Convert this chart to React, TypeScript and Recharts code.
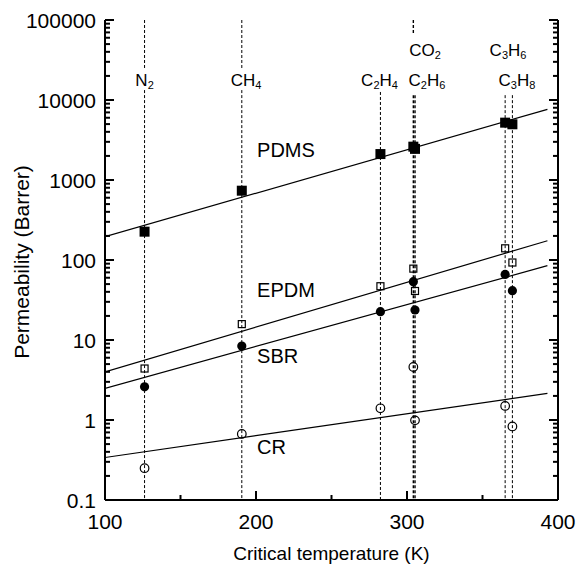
import React from 'react';
import { ComposedChart, Line, ReferenceDot, ReferenceLine, Scatter, XAxis, YAxis } from 'recharts';

// gases ordered by critical temperature (K)
const gasNames = ['N2', 'CH4', 'C2H4', 'CO2', 'C2H6', 'C3H6', 'C3H8'];
const criticalTemps = [126.2, 190.6, 282.4, 304.2, 305.3, 365.0, 369.8];

// permeability (Barrer) per gas
const pdms = [226, 735, 2110, 2610, 2450, 5210, 4970];
const epdm = [4.4, 15.8, 47, 78, 41, 140, 93];
const sbr = [2.6, 8.4, 22.6, 53.6, 23.7, 66, 41.4];
const cr = [0.25, 0.67, 1.4, 4.6, 0.99, 1.5, 0.83];

// fitted lines: endpoints in K and Barrer
const fitTemps = [100, 393];
const pdmsFit = [196, 7640];
const epdmFit = [4.0, 174];
const sbrFit = [2.49, 85];
const crFit = [0.34, 2.15];

// gas label placement (x in K, row 1 = upper)
const gasLabelTemps = [126.2, 193.4, 281.8, 312, 313.2, 366.9, 372.8];
const gasLabelRows = [2, 2, 2, 1, 2, 1, 2];
const rowValues = { 1: 42170, 2: 17783 };

// dashed guide segments per gas [top, bottom] in Barrer
const guideSegments = [
  [[100000, 25000], [13300, 0.1]],
  [[100000, 25000], [13300, 0.1]],
  [[12600, 0.1]],
  [[100000, 65000], [11500, 0.1]],
  [[11500, 0.1]],
  [[11500, 0.1]],
  [[11500, 0.1]]
];

// polymer names next to their lines
const polymerNames = ['PDMS', 'EPDM', 'SBR', 'CR'];
const polymerLabelTemps = [200.7, 200.7, 200.7, 200.7];
const polymerLabelValues = [2371, 42.2, 6.31, 0.46];

const xTicks = [100, 150, 200, 250, 300, 350, 400];
const xLabels = [100, 200, 300, 400];
const yDecades = [0.1, 1, 10, 100, 1000, 10000, 100000];
const yTicks: number[] = [];
yDecades.forEach((d, i) => {
  yTicks.push(d);
  if (i < yDecades.length - 1) for (let k = 2; k <= 9; k++) yTicks.push(d * k);
});

const PL = 105;
const PR = 558;
const PT = 20;
const PB = 500;
const TICK_W = 2;

const toPoints = (xs: number[], ys: number[]) => xs.map((x, i) => ({ x, y: ys[i] }));

const isMajor = (v: number) => yDecades.some((d) => Math.abs(d - v) / d < 1e-6);

const LeftTick = (p: any) => {
  const v = p.payload.value;
  const major = isMajor(v);
  return (
    <g>
      <path d={`M${PL},${p.y}h${major ? 9 : 5}`} stroke="#000" strokeWidth={TICK_W} fill="none" />
      {major && (
        <text x={96} y={p.y} textAnchor="end" dominantBaseline="central" fontSize={21} fill="#000">
          {String(v)}
        </text>
      )}
    </g>
  );
};

const RightTick = (p: any) => {
  const major = isMajor(p.payload.value);
  return <path d={`M${PR},${p.y}h${major ? -9 : -5}`} stroke="#000" strokeWidth={TICK_W} fill="none" />;
};

const BottomTick = (p: any) => {
  const v = p.payload.value;
  const major = xLabels.includes(v);
  return (
    <g>
      <path d={`M${p.x},${PB}v${major ? -9 : -5}`} stroke="#000" strokeWidth={TICK_W} fill="none" />
      {major && (
        <text x={p.x} y={521} textAnchor="middle" dominantBaseline="central" fontSize={21} fill="#000">
          {v}
        </text>
      )}
    </g>
  );
};

const TopTick = (p: any) => {
  const major = xLabels.includes(p.payload.value);
  return <path d={`M${p.x},${PT}v${major ? 9 : 5}`} stroke="#000" strokeWidth={TICK_W} fill="none" />;
};

const Formula = ({ cx, cy, text }: { cx: number; cy: number; text: string }) => {
  const parts: React.ReactNode[] = [];
  let sub = false;
  text.split('').forEach((ch, i) => {
    const digit = /\d/.test(ch);
    const dy = digit && !sub ? 5 : !digit && sub ? -5 : 0;
    sub = digit;
    parts.push(
      <tspan key={i} dy={dy} fontSize={digit ? 11 : 17}>
        {ch}
      </tspan>
    );
  });
  return (
    <text x={cx} y={cy} textAnchor="middle" dominantBaseline="central" fill="#000">
      {parts}
    </text>
  );
};

const FilledSquare = (p: any) => <rect x={p.cx - 5} y={p.cy - 5} width={10} height={10} fill="#000" />;
const OpenSquare = (p: any) => (
  <rect x={p.cx - 3.5} y={p.cy - 3.5} width={7} height={7} fill="none" stroke="#000" strokeWidth={1.2} />
);
const FilledCircle = (p: any) => <circle cx={p.cx} cy={p.cy} r={4.6} fill="#000" />;
const OpenCircle = (p: any) => <circle cx={p.cx} cy={p.cy} r={4.3} fill="none" stroke="#000" strokeWidth={1.2} />;

const axisLine = { stroke: '#000', strokeWidth: 2 };

export default function App() {
  const markerSeries = [
    { data: pdms, shape: FilledSquare },
    { data: epdm, shape: OpenSquare },
    { data: sbr, shape: FilledCircle },
    { data: cr, shape: OpenCircle }
  ];
  const fits = [pdmsFit, epdmFit, sbrFit, crFit];

  return (
    <div
      style={{
        position: 'absolute',
        left: 0,
        top: 0,
        width: 577,
        height: 569,
        background: '#fff',
        fontFamily: '"Liberation Sans", Arial, Helvetica, sans-serif'
      }}
    >
      <ComposedChart width={577} height={569} margin={{ top: PT, right: 0, bottom: 0, left: 0 }}>
        <XAxis
          xAxisId="b"
          type="number"
          dataKey="x"
          domain={[100, 400]}
          ticks={xTicks}
          interval={0}
          height={69}
          allowDataOverflow
          tickLine={false}
          axisLine={axisLine}
          tick={(p: any) => <BottomTick {...p} />}
          label={{
            content: () => (
              <text x={331.5} y={553} textAnchor="middle" dominantBaseline="central" fontSize={19} fill="#000">
                Critical temperature (K)
              </text>
            )
          }}
        />
        <XAxis
          xAxisId="t"
          orientation="top"
          type="number"
          dataKey="x"
          domain={[100, 400]}
          ticks={xTicks}
          interval={0}
          height={0}
          allowDataOverflow
          tickLine={false}
          axisLine={axisLine}
          tick={(p: any) => <TopTick {...p} />}
        />
        <YAxis
          yAxisId="l"
          type="number"
          dataKey="y"
          scale="log"
          domain={[0.1, 100000]}
          ticks={yTicks}
          interval={0}
          width={105}
          allowDataOverflow
          tickLine={false}
          axisLine={axisLine}
          tick={(p: any) => <LeftTick {...p} />}
          label={{
            content: () => (
              <text
                transform="translate(21,262) rotate(-90)"
                textAnchor="middle"
                dominantBaseline="central"
                fontSize={21}
                fill="#000"
              >
                Permeability (Barrer)
              </text>
            )
          }}
        />
        <YAxis
          yAxisId="r"
          orientation="right"
          type="number"
          dataKey="y"
          scale="log"
          domain={[0.1, 100000]}
          ticks={yTicks}
          interval={0}
          width={19}
          allowDataOverflow
          tickLine={false}
          axisLine={axisLine}
          tick={(p: any) => <RightTick {...p} />}
        />

        {guideSegments.map((segs, gi) =>
          segs.map(([top, bottom], si) => (
            <ReferenceLine
              key={`g-${gi}-${si}`}
              xAxisId="b"
              yAxisId="l"
              segment={[
                { x: criticalTemps[gi], y: top },
                { x: criticalTemps[gi], y: bottom }
              ]}
              stroke="#000"
              strokeWidth={gi === 3 || gi === 4 ? 1.4 : 1}
              strokeDasharray="3 2"
            />
          ))
        )}

        {fits.map((f, i) => (
          <Line
            key={`fit-${i}`}
            xAxisId="t"
            yAxisId="r"
            data={toPoints(fitTemps, f)}
            dataKey="y"
            type="linear"
            stroke="#000"
            strokeWidth={1.2}
            dot={false}
            activeDot={false}
            isAnimationActive={false}
          />
        ))}

        {markerSeries.map((s, i) => (
          <Scatter
            key={`m-${i}`}
            xAxisId="b"
            yAxisId="l"
            data={toPoints(criticalTemps, s.data)}
            dataKey="y"
            shape={s.shape}
            isAnimationActive={false}
          />
        ))}

        {gasNames.map((g, i) => (
          <ReferenceDot
            key={`gl-${g}`}
            xAxisId="b"
            yAxisId="l"
            x={gasLabelTemps[i]}
            y={rowValues[gasLabelRows[i] as 1 | 2]}
            r={0}
            shape={(p: any) => <Formula cx={p.cx} cy={p.cy} text={g} />}
          />
        ))}

        {polymerNames.map((n, i) => (
          <ReferenceDot
            key={`pl-${n}`}
            xAxisId="b"
            yAxisId="l"
            x={polymerLabelTemps[i]}
            y={polymerLabelValues[i]}
            r={0}
            shape={(p: any) => (
              <text x={p.cx} y={p.cy} dominantBaseline="central" fontSize={20} fill="#000">
                {n}
              </text>
            )}
          />
        ))}
      </ComposedChart>
    </div>
  );
}
